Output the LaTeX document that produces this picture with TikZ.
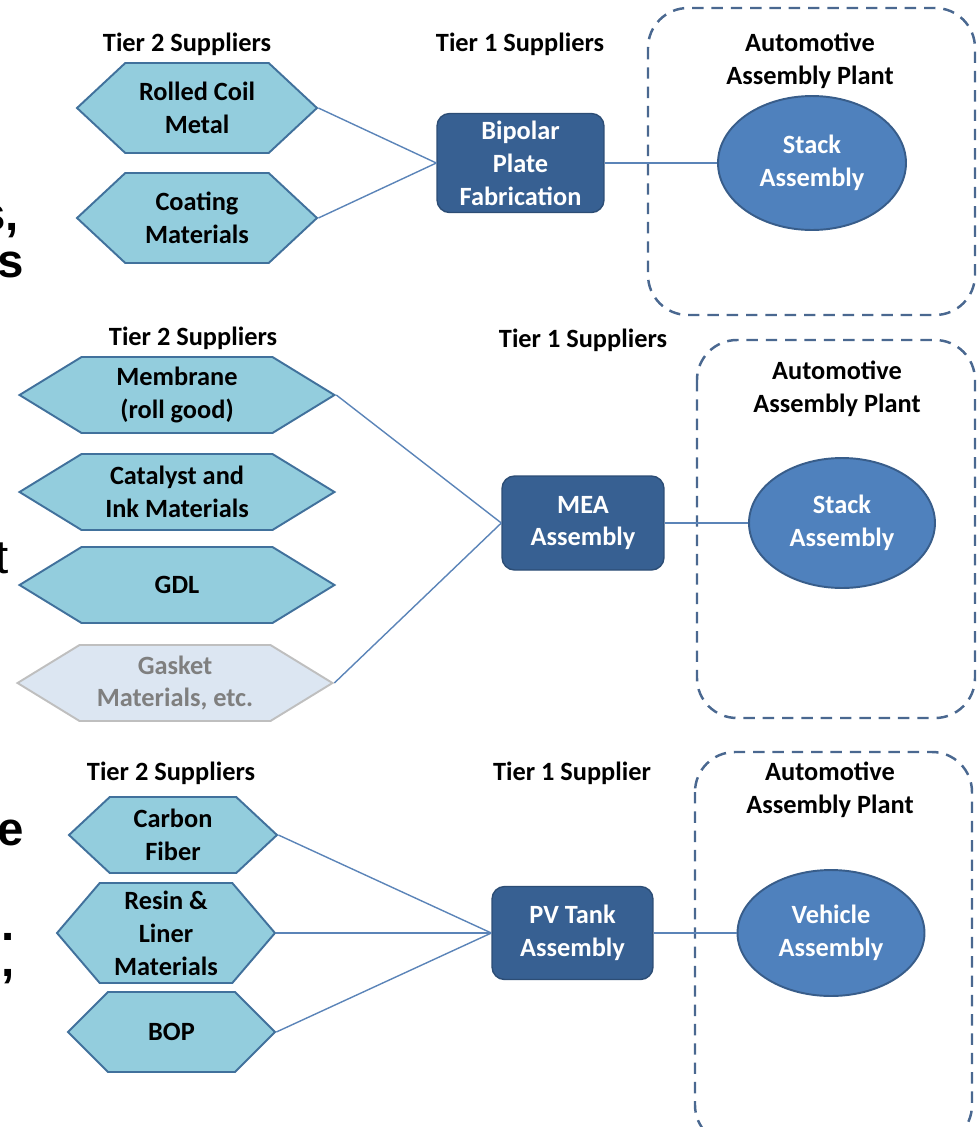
\documentclass[tikz,border=0pt]{standalone}
\usepackage{fontspec}
\setmainfont{Carlito}
\newfontfamily\slidefont{Liberation Sans}
\usepackage{tikz}
\usetikzlibrary{shapes,positioning}
\definecolor{hexfill}{HTML}{93CDDD}
\definecolor{hexline}{HTML}{41719C}
\definecolor{boxfill}{HTML}{376092}
\definecolor{boxline}{HTML}{2C4D75}
\definecolor{ellfill}{HTML}{4F81BD}
\definecolor{ellline}{HTML}{385D8A}
\definecolor{linkcol}{HTML}{5B84B8}
\definecolor{framecol}{HTML}{4A6890}
\definecolor{fadefill}{HTML}{DCE6F2}
\definecolor{fadeline}{HTML}{BFBFBF}
\definecolor{fadetext}{HTML}{7F7F7F}
\newcommand{\labelfont}{\fontsize{15}{18.7}\selectfont\bfseries}
\newcommand{\cutfont}{\slidefont\fontsize{27}{30}\selectfont}
\tikzstyle{heading} = [font=\labelfont, align=center, inner sep=0pt]
\tikzstyle{supplier} = [signal, signal to=west and east, draw=hexline, fill=hexfill, line width=1.1pt, font=\labelfont, align=center, inner sep=1pt]
\tikzstyle{faded} = [supplier, draw=fadeline, fill=fadefill, text=fadetext]
\tikzstyle{tierone} = [rectangle, rounded corners=0.25cm, draw=boxline, fill=boxfill, line width=0.8pt, text=white, font=\labelfont, align=center]
\tikzstyle{plant} = [ellipse, draw=ellline, fill=ellfill, line width=1.1pt, text=white, font=\labelfont, align=center]
\tikzstyle{frame} = [draw=framecol, line width=1.4pt, dash pattern=on 6.5pt off 4.5pt, rounded corners=0.8cm]
\tikzstyle{link} = [draw=linkcol, line width=0.8pt]
\tikzstyle{cut} = [anchor=base east, inner sep=0pt, font=\cutfont]

\begin{document}
\begin{tikzpicture}[x=0.02cm, y=-0.02cm]
\useasboundingbox (0,0) rectangle (978,1127);

% bipolar plates
\draw[frame] (648,8) rectangle (975,315);
\node[heading] (tiertwoA) at (187,44) {Tier 2 Suppliers};
\node[heading] (tieroneA) at (520,44) {Tier 1 Suppliers};
\node[heading] (plantA) at (810,61) {Automotive\\Assembly Plant};
\node[supplier, minimum width=4.8cm, minimum height=1.8cm, signal pointer angle=86] (coil) at (197,108) {Rolled Coil\\Metal};
\node[supplier, minimum width=4.8cm, minimum height=1.8cm, signal pointer angle=86] (coating) at (197,218) {Coating\\Materials};
\node[tierone, minimum width=3.34cm, minimum height=1.98cm] (bipolar) at (520.5,163) {Bipolar\\Plate\\Fabrication};
\node[plant, minimum width=3.76cm, minimum height=2.68cm] (stackA) at (812,163) {Stack\\Assembly};
\draw[link] (coil.east) -- (bipolar.west);
\draw[link] (coating.east) -- (bipolar.west);
\draw[link] (bipolar) -- (stackA);

% MEA
\draw[frame] (697,340) rectangle (975,718);
\node[heading] (tiertwoB) at (193,338) {Tier 2 Suppliers};
\node[heading] (tieroneB) at (583,340) {Tier 1 Suppliers};
\node[heading] (plantB) at (837,389) {Automotive\\Assembly Plant};
\node[supplier, minimum width=6.3cm, minimum height=1.52cm, signal pointer angle=63] (membrane) at (177,395) {Membrane\\(roll good)};
\node[supplier, minimum width=6.3cm, minimum height=1.52cm, signal pointer angle=63] (catalyst) at (177,492) {Catalyst and\\Ink Materials};
\node[supplier, minimum width=6.3cm, minimum height=1.52cm, signal pointer angle=63] (gdl) at (177,585) {GDL};
\node[faded, minimum width=6.3cm, minimum height=1.52cm, signal pointer angle=63] (gasket) at (175,683) {Gasket\\Materials, etc.};
\node[tierone, minimum width=3.24cm, minimum height=1.88cm] (mea) at (583,523) {MEA\\Assembly};
\node[plant, minimum width=3.72cm, minimum height=2.6cm] (stackB) at (842,523) {Stack\\Assembly};
\draw[link] (membrane.east) -- (mea.west);
\draw[link] (gasket.east) -- (mea.west);
\draw[link] (mea) -- (stackB);

% pressure vessel
\draw[frame] (695,752) rectangle (972,1145);
\node[heading] (tiertwoC) at (171,773) {Tier 2 Suppliers};
\node[heading] (tieroneC) at (572,773) {Tier 1 Supplier};
\node[heading] (plantC) at (830,790) {Automotive\\Assembly Plant};
\node[supplier, minimum width=4.16cm, minimum height=1.52cm, signal pointer angle=86] (carbon) at (173,835) {Carbon\\Fiber};
\node[supplier, minimum width=4.36cm, minimum height=2.0cm, signal pointer angle=99] (resin) at (166,933) {Resin \&\\Liner\\Materials};
\node[supplier, minimum width=4.14cm, minimum height=1.6cm, signal pointer angle=90] (bop) at (171.5,1032) {BOP};
\node[tierone, minimum width=3.22cm, minimum height=1.86cm] (pvtank) at (572.5,933) {PV Tank\\Assembly};
\node[plant, minimum width=3.74cm, minimum height=2.52cm] (vehicle) at (831,933) {Vehicle\\Assembly};
\draw[link] (carbon.east) -- (pvtank.west);
\draw[link] (resin.east) -- (pvtank.west);
\draw[link] (bop.east) -- (pvtank.west);
\draw[link] (pvtank) -- (vehicle);

% clipped slide text on the left
\node[cut, font=\cutfont\bfseries] (cutA) at (19,230) {s,};
\node[cut, font=\cutfont\bfseries] (cutB) at (24,277) {s};
\node[cut] (cutC) at (9,573) {t};
\node[cut, font=\cutfont\bfseries] (cutD) at (24,845) {e};
\node[cut, align=right, font=\slidefont\bfseries\fontsize{27}{20.4}\selectfont] (cutE) at (15,976) {.\\s,};
\end{tikzpicture}
\end{document}
